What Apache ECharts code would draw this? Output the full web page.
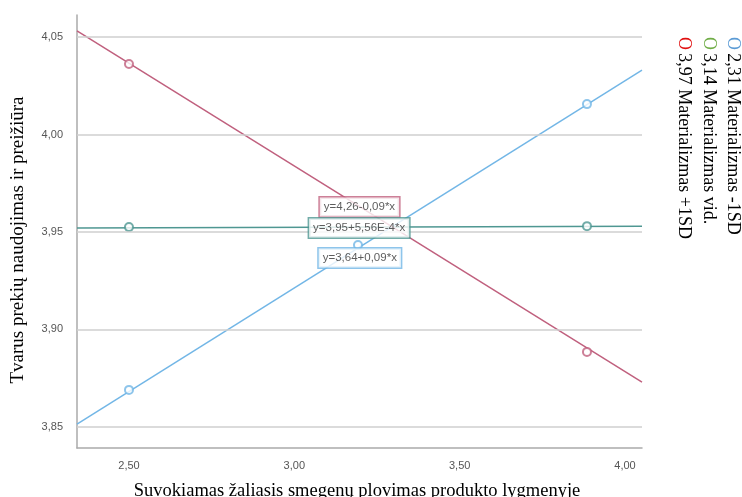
<!DOCTYPE html>
<html>
<head>
<meta charset="utf-8">
<script src="https://cdn.jsdelivr.net/npm/echarts@6/dist/echarts.min.js"></script>
<style>html,body{margin:0;padding:0;background:#fff;}#c{width:742px;height:497px;}</style>
</head>
<body>
<div id="c"></div>
<script>
// Axis ranges and ticks
const xRange = [2.3428, 4.0514];
const yRange = [3.8392, 4.0613];
const xTicks = [2.5, 3.0, 3.5, 4.0];
const yTicks = [3.85, 3.90, 3.95, 4.00, 4.05];

// Fit lines (value at left edge, value at right edge)
const lineLow  = [[2.3428, 3.8515], [4.0514, 4.0330]];   // 2,31 Materializmas -1SD
const lineMid  = [[2.3428, 3.9520], [4.0514, 3.9530]];   // 3,14 Materializmas vid.
const lineHigh = [[2.3428, 4.0531], [4.0514, 3.8730]];   // 3,97 Materializmas +1SD

// Observed group means (circles)
const ptsLow  = [[2.50, 3.8690], [3.885, 4.0156], [3.1925, 3.9433]];
const ptsMid  = [[2.50, 3.9525], [3.885, 3.9530]];
const ptsHigh = [[2.50, 4.0362], [3.885, 3.8885]];

// Equation labels
const eqHigh = {pos: [3.197, 3.9628], text: 'y=4,26-0,09*x'};
const eqMid  = {pos: [3.196, 3.9520], text: 'y=3,95+5,56E-4*x'};
const eqLow  = {pos: [3.198, 3.9367], text: 'y=3,64+0,09*x'};

// Legend entries
const legendItems = [
  {name: '2,31 Materializmas -1SD', color: '#5b9bd5'},
  {name: '3,14 Materializmas vid.', color: '#70ad47'},
  {name: '3,97 Materializmas +1SD', color: '#e01010'}
];

const xTitle = 'Suvokiamas žaliasis smegenų plovimas produkto lygmenyje';
const yTitle = 'Tvarus prekių naudojimas ir preižiūra';

const cLow = '#72b6e6', cMid = '#4f9792', cHigh = '#c0607e';
const fmt = v => v.toFixed(2).replace('.', ',');
const serif = 'Liberation Serif, Times New Roman, serif';
const sans = 'Liberation Sans, Arial, sans-serif';

function lineSeries(data, color) {
  return {type: 'line', data: data, showSymbol: false, silent: true, z: 3,
    lineStyle: {color: color, width: 1.5}};
}
function pointSeries(data, color) {
  return {type: 'scatter', data: data, symbol: 'emptyCircle', symbolSize: 8, z: 4,
    itemStyle: {color: color, borderColor: color, borderWidth: 1.5}};
}
function labelSeries(eq, color) {
  return {type: 'scatter', data: [eq.pos], symbolSize: 0, z: 10,
    label: {show: true, position: 'inside', formatter: eq.text, color: '#333',
      fontFamily: sans, fontSize: 11.5,
      backgroundColor: '#fff', borderColor: color, borderWidth: 1.5, padding: [4, 4, 3, 4]}};
}

const chart = echarts.init(document.getElementById('c'));
const legendGraphics = legendItems.map((it, i) => ({
  type: 'text', x: 733 - i * 24.5, y: 37, rotation: -Math.PI / 2,
  style: {
    text: '{o|O} {t|' + it.name + '}',
    align: 'left', verticalAlign: 'middle',
    rich: {
      o: {fill: it.color, fontFamily: serif, fontSize: 18},
      t: {fill: '#000', fontFamily: serif, fontSize: 18}
    }
  }
}));

chart.setOption({
  animation: false,
  backgroundColor: '#fff',
  grid: {left: 77, right: 100, top: 15, bottom: 49},
  xAxis: {type: 'value', min: xRange[0], max: xRange[1],
    axisLine: {show: true, lineStyle: {color: '#aaa', width: 1.5}},
    axisTick: {show: false}, splitLine: {show: false},
    axisLabel: {customValues: xTicks, formatter: fmt, color: '#555', fontSize: 11, margin: 12,
      fontFamily: sans}},
  yAxis: {type: 'value', min: yRange[0], max: yRange[1],
    axisLine: {show: true, lineStyle: {color: '#aaa', width: 1.5}},
    axisTick: {show: false}, splitLine: {show: false},
    axisLabel: {customValues: yTicks, formatter: fmt, color: '#555', fontSize: 11, margin: 14,
      fontFamily: sans}},
  series: [
    {type: 'line', data: [], silent: true, z: 1,
      markLine: {silent: true, symbol: 'none', label: {show: false},
        lineStyle: {color: '#cfcfcf', type: 'solid', width: 1.5},
        data: yTicks.map(v => ({yAxis: v}))}},
    lineSeries(lineLow, cLow), lineSeries(lineMid, cMid), lineSeries(lineHigh, cHigh),
    pointSeries(ptsLow, cLow), pointSeries(ptsMid, cMid), pointSeries(ptsHigh, cHigh),
    labelSeries(eqHigh, cHigh), labelSeries(eqMid, cMid), labelSeries(eqLow, cLow)
  ],
  graphic: [
    {type: 'text', x: 18, y: 240, rotation: Math.PI / 2,
      style: {text: yTitle, align: 'center', verticalAlign: 'middle', fill: '#000',
        fontFamily: serif, fontSize: 19}},
    {type: 'text', x: 357, y: 491,
      style: {text: xTitle, align: 'center', verticalAlign: 'middle', fill: '#000',
        fontFamily: serif, fontSize: 18.5}}
  ].concat(legendGraphics)
});
</script>
</body>
</html>
